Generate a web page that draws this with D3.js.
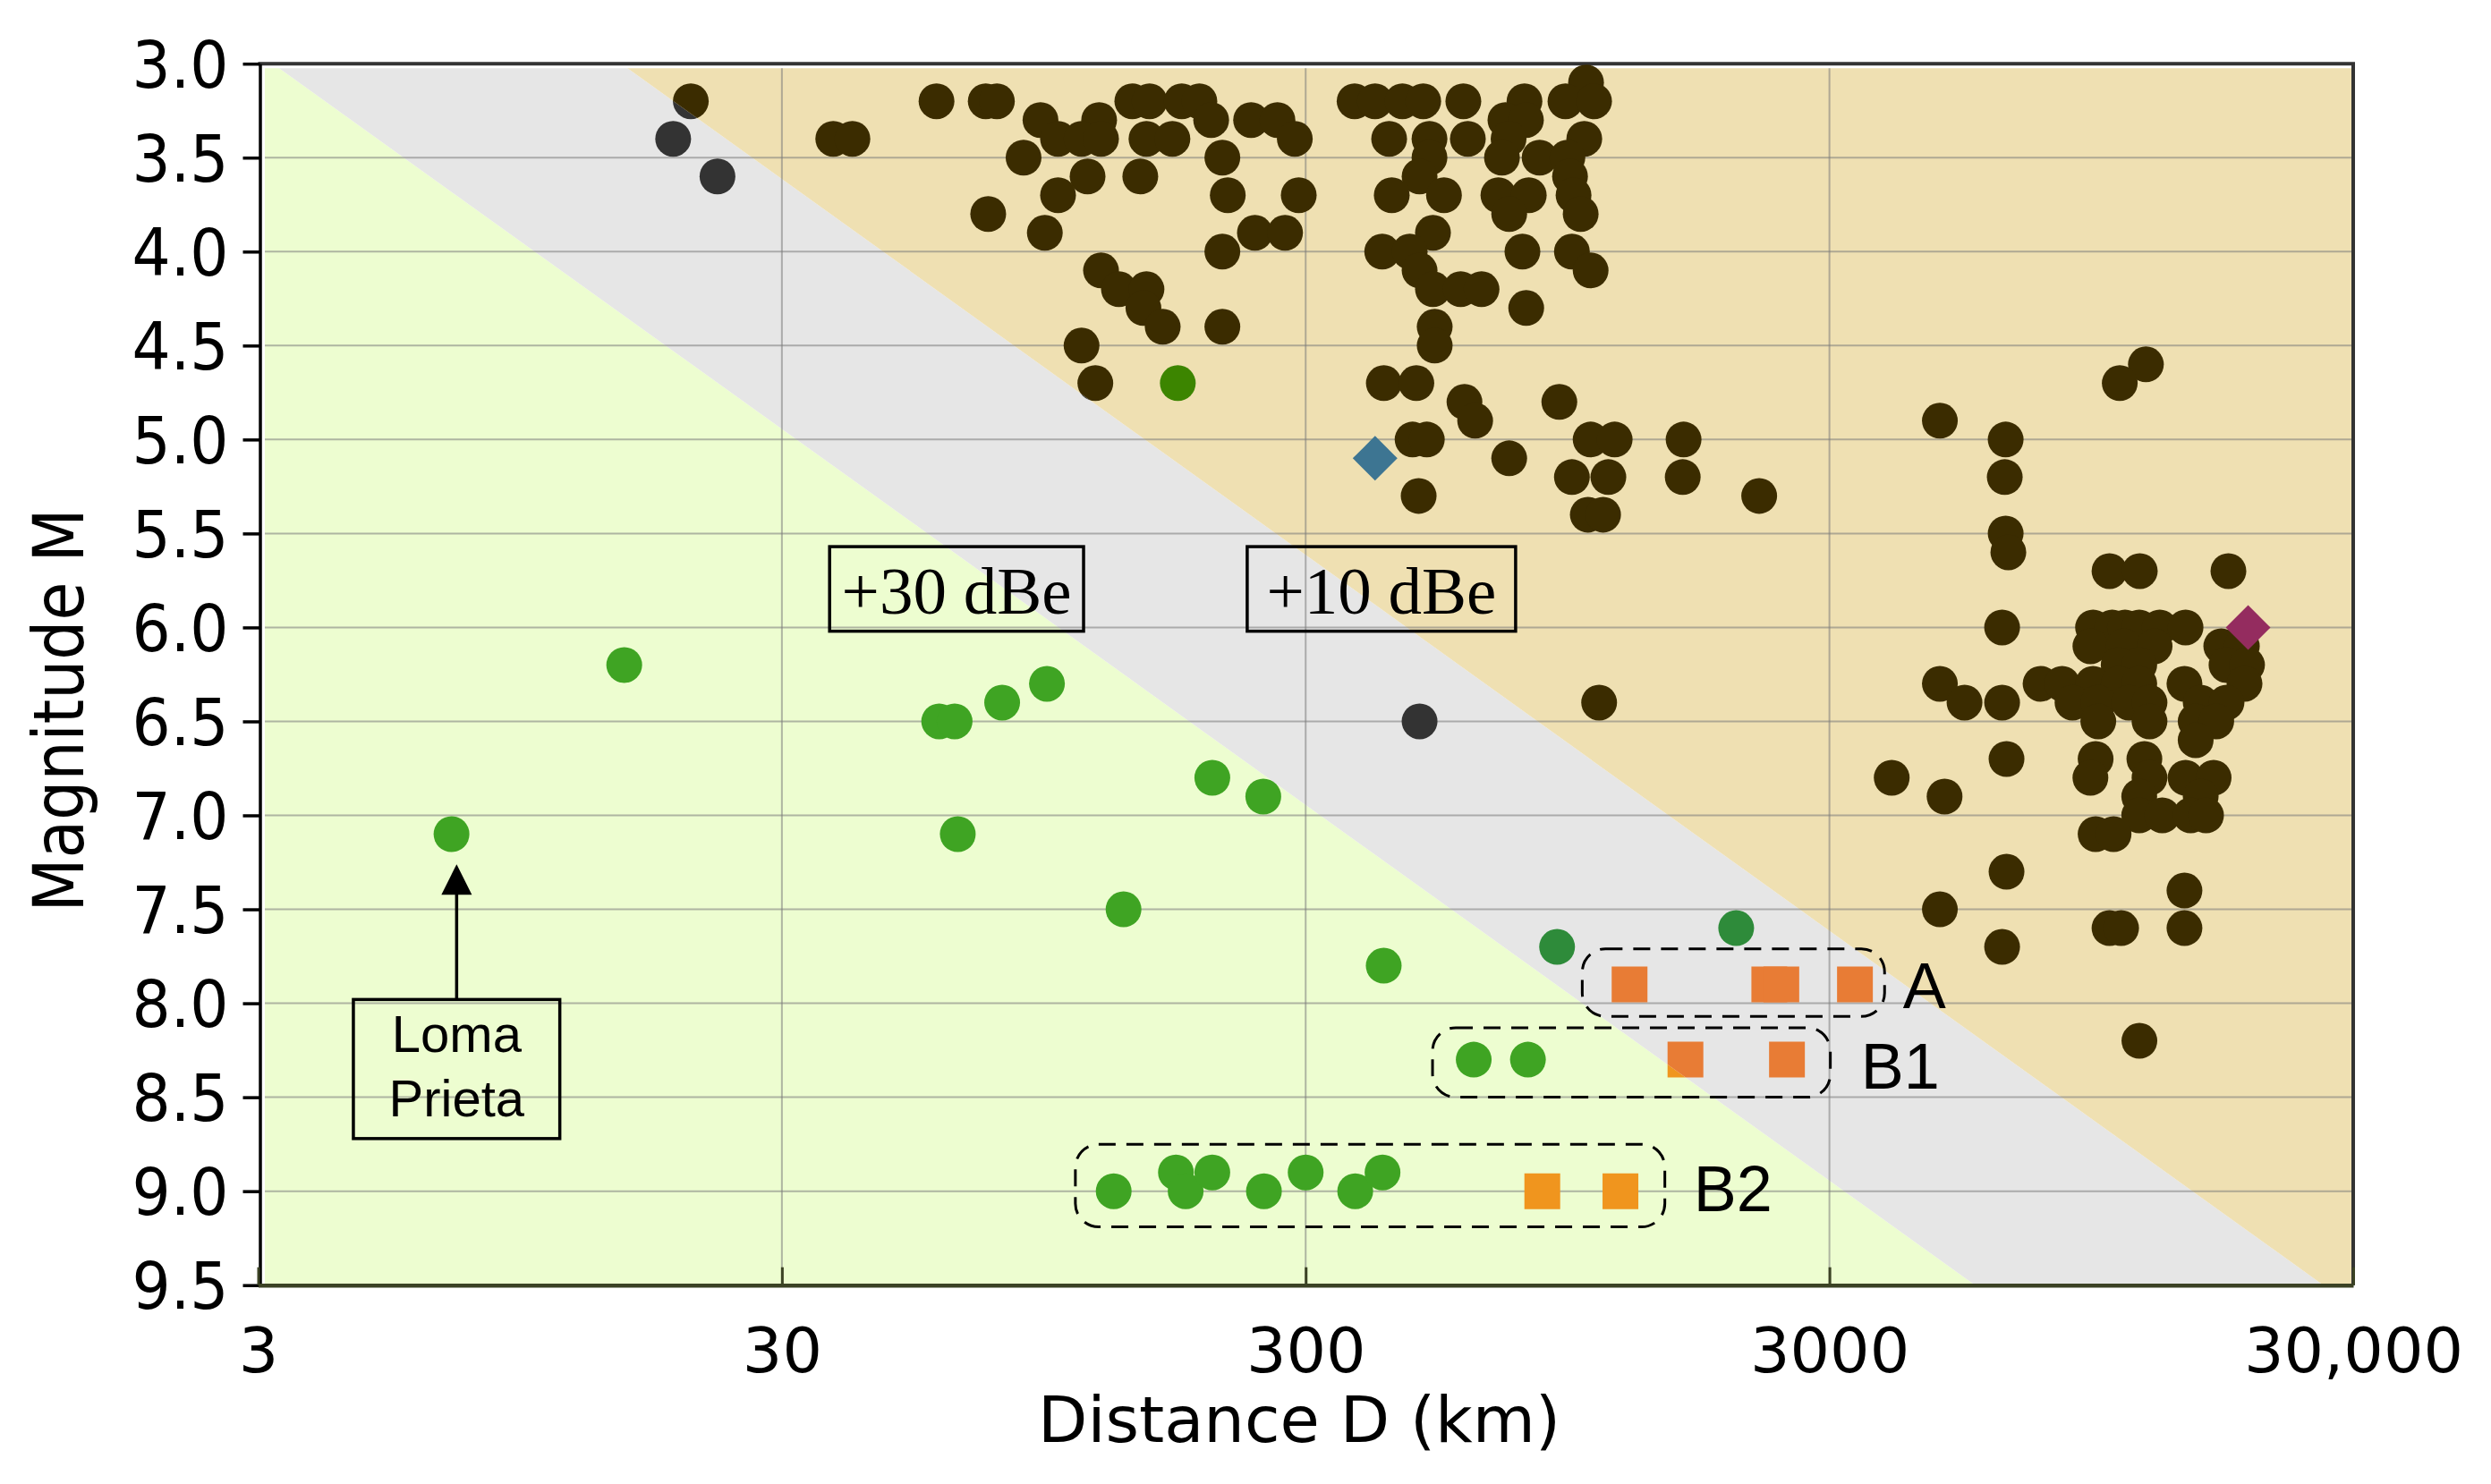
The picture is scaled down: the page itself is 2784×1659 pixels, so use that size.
<!DOCTYPE html>
<html>
<head>
<meta charset="utf-8">
<script src="https://cdn.jsdelivr.net/npm/d3@7"></script>
<style>
  body { margin: 0; background: #fff; }
  svg { display: block; }
</style>
</head>
<body>
<div id="chart"></div>
<script>
'use strict';

// axis ticks
var yTicks = [3.0, 3.5, 4.0, 4.5, 5.0, 5.5, 6.0, 6.5, 7.0, 7.5, 8.0, 8.5, 9.0, 9.5];
var xTicks = [3, 30, 300, 3000, 30000];
var xTickLabels = ['3', '30', '300', '3000', '30,000'];
var xGrid = [30, 300, 3000];

// band edges [distance km, magnitude]
var greenEdge = [[3.2, 3.0], [5690, 9.5]];
var tanEdge = [[14.8, 3.0], [26300, 9.5]];

// [distance km, magnitude]
var darkQuakes = [
  [1029, 3.1],
  [20.1, 3.2], [59.2, 3.2], [73.5, 3.2], [77.2, 3.2], [140, 3.2], [151, 3.2], [174, 3.2], [188, 3.2],
  [372, 3.2], [407, 3.2], [459, 3.2], [503, 3.2], [600, 3.2], [785, 3.2], [940, 3.2], [1066, 3.2],
  [93.5, 3.3], [121, 3.3], [198, 3.3], [236, 3.3], [265, 3.3], [722, 3.3], [790, 3.3],
  [18.6, 3.4], [37.6, 3.4], [40.9, 3.4], [101, 3.4], [112, 3.4], [122, 3.4], [149, 3.4], [167, 3.4],
  [286, 3.4], [433, 3.4], [517, 3.4], [612, 3.4], [732, 3.4], [1021, 3.4],
  [86.8, 3.5], [208, 3.5], [517, 3.5], [711, 3.5], [839, 3.5], [948, 3.5],
  [22.6, 3.6], [115, 3.6], [145, 3.6], [495, 3.6], [959, 3.6],
  [101, 3.7], [213, 3.7], [291, 3.7], [438, 3.7], [551, 3.7], [700, 3.7], [800, 3.7], [974, 3.7],
  [74.3, 3.8], [734, 3.8], [1005, 3.8],
  [95.3, 3.9], [240, 3.9], [274, 3.9], [525, 3.9],
  [208, 4.0], [420, 4.0], [474, 4.0], [778, 4.0], [967, 4.0],
  [122, 4.1], [495, 4.1], [1050, 4.1],
  [132, 4.2], [149, 4.2], [525, 4.2], [593, 4.2], [650, 4.2],
  [147, 4.3], [791, 4.3],
  [160, 4.4], [208, 4.4], [529, 4.4],
  [112, 4.5], [529, 4.5],
  [12060, 4.6],
  [119, 4.7], [423, 4.7], [488, 4.7], [10750, 4.7],
  [603, 4.8], [915, 4.8],
  [632, 4.9], [4875, 4.9],
  [480, 5.0], [511, 5.0], [1050, 5.0], [1167, 5.0], [1580, 5.0], [6510, 5.0],
  [734, 5.1],
  [967, 5.2], [1135, 5.2], [1574, 5.2], [6484, 5.2],
  [493, 5.3], [2203, 5.3],
  [1037, 5.4], [1109, 5.4],
  [6510, 5.5], [6587, 5.6],
  [10276, 5.7], [11740, 5.7], [17332, 5.7],
  [6409, 6.0], [9559, 6.0], [10400, 6.0], [11000, 6.0], [11711, 6.0], [12815, 6.0], [14355, 6.0],
  [9449, 6.1], [10942, 6.1], [12529, 6.1], [16797, 6.1], [18387, 6.1],
  [10699, 6.2], [11711, 6.2], [17189, 6.2], [18810, 6.2],
  [4875, 6.3], [7590, 6.3], [8344, 6.3], [9559, 6.3], [10699, 6.3], [11711, 6.3], [14287, 6.3], [18604, 6.3],
  [1090, 6.4], [5433, 6.4], [6409, 6.4], [8733, 6.4], [9781, 6.4], [11193, 6.4], [12252, 6.4], [15344, 6.4], [17189, 6.4],
  [495, 6.5], [9781, 6.5], [12252, 6.5], [15009, 6.5], [16428, 6.5],
  [15009, 6.6],
  [6535, 6.7], [9668, 6.7], [11979, 6.7],
  [3945, 6.8], [9449, 6.8], [12252, 6.8], [14355, 6.8], [16241, 6.8],
  [4977, 6.9], [11711, 6.9], [15344, 6.9],
  [11711, 7.0], [12958, 7.0], [14679, 7.0], [15708, 7.0],
  [9668, 7.1], [10461, 7.1],
  [6535, 7.3], [14287, 7.4], [4875, 7.5],
  [10276, 7.6], [10814, 7.6], [14287, 7.6],
  [6409, 7.7], [11720, 8.2]
];

var greenQuakes = [
  [7.02, 7.1], [15.0, 6.2], [59.9, 6.5], [64.1, 6.5], [79.0, 6.4], [96.2, 6.3], [65.0, 7.1],
  [171, 4.7], [134.7, 7.5], [199, 6.8], [249, 6.9], [422.8, 7.8], [906, 7.7], [1991, 7.6],
  [628, 8.3], [797, 8.3],
  [129, 9.0], [169.6, 8.9], [177, 9.0], [199, 8.9], [249.7, 9.0], [300, 8.9], [373, 9.0], [420.6, 8.9]
];

var squareQuakes = [
  [1246, 7.9], [2303, 7.9], [2428, 7.9], [3356, 7.9],
  [1593, 8.3], [2489, 8.3],
  [849, 9.0], [1197, 9.0]
];

var blueDiamond = [[407, 5.1]];
var purpleDiamond = [[18900, 6.0]];

// annotations
var bandNotes = [
  {text: '+30 dBe', d0: 37, d1: 113, m0: 5.57, m1: 6.02},
  {text: '+10 dBe', d0: 232, d1: 755, m0: 5.57, m1: 6.02}
];
var lomaNote = {lines: ['Loma', 'Prieta'], d0: 4.56, d1: 11.3, m0: 7.98, m1: 8.72, arrowD: 7.18, tipM: 7.26};
var groupBoxes = [
  {label: 'A', d0: 1012, d1: 3823, m0: 7.71, m1: 8.07, labelD: 4143},
  {label: 'B1', d0: 524, d1: 3012, m0: 8.13, m1: 8.50, labelD: 3443},
  {label: 'B2', d0: 109, d1: 1455, m0: 8.75, m1: 9.19, labelD: 1650}
];

var darkFill = {green: '#333333', gray: '#333333', tan: '#3b2c00'};
var greenFill = {green: '#3fa423', gray: '#2e8b3a', tan: '#3c8500'};
var squareFill = {green: '#f0951e', gray: '#e87c35', tan: '#e87c35'};

(function() {
  var W = 2784, H = 1659;
  var pLeft = 288.5, pRight = 2630, pTop = 71.2, pBottom = 1436.7;

  var x = d3.scaleLog().domain([3, 30000]).range([pLeft, pRight]);
  var y = d3.scaleLinear().domain([3, 9.5]).range([pTop, pBottom]);

  var svg = d3.select('#chart').append('svg')
    .attr('width', W)
    .attr('height', H)
    .style('background', '#ffffff');
  var defs = svg.append('defs');

  defs.append('clipPath').attr('id', 'inner')
    .append('rect')
    .attr('x', pLeft + 7.5)
    .attr('y', pTop + 5)
    .attr('width', pRight - pLeft - 9)
    .attr('height', pBottom - pTop - 6);

  // band edge in pixels, pushed well past the frame
  function stretch(edge) {
    var x0 = x(edge[0][0]), y0 = y(edge[0][1]);
    var x1 = x(edge[1][0]), y1 = y(edge[1][1]);
    var k = (x1 - x0) / (y1 - y0);
    return [[x0 + k * (-600 - y0), -600], [x0 + k * (2600 - y0), 2600]];
  }
  var ge = stretch(greenEdge), te = stretch(tanEdge);
  var regions = [
    {name: 'green', fill: '#edfdd0', pts: [[-4000, -600], ge[0], ge[1], [-4000, 2600]]},
    {name: 'gray', fill: '#e6e6e6', pts: [ge[0], te[0], te[1], ge[1]]},
    {name: 'tan', fill: '#efe0b2', pts: [te[0], [8000, -600], [8000, 2600], te[1]]}
  ];

  regions.forEach(function(r) {
    defs.append('clipPath').attr('id', 'clip-' + r.name)
      .append('polygon')
      .attr('points', r.pts.join(' '));
  });

  svg.append('g')
    .attr('clip-path', 'url(#inner)')
    .selectAll('polygon').data(regions)
    .enter().append('polygon')
      .attr('points', function(d) { return d.pts.join(' '); })
      .style('fill', function(d) { return d.fill; });

  // grid
  var grid = svg.append('g').attr('clip-path', 'url(#inner)')
    .style('stroke', '#7a7a7a')
    .style('stroke-opacity', 0.55)
    .style('stroke-width', 2);
  grid.selectAll('line.h').data(yTicks.slice(1, -1))
    .enter().append('line')
      .attr('class', 'h')
      .attr('x1', pLeft).attr('x2', pRight)
      .attr('y1', function(d) { return y(d); })
      .attr('y2', function(d) { return y(d); });
  grid.selectAll('line.v').data(xGrid)
    .enter().append('line')
      .attr('class', 'v')
      .attr('y1', pTop).attr('y2', pBottom)
      .attr('x1', function(d) { return x(d); })
      .attr('x2', function(d) { return x(d); });

  // frame top/right
  svg.append('path')
    .attr('d', 'M' + pLeft + ',' + pTop + 'H' + pRight + 'V' + pBottom)
    .style('fill', 'none')
    .style('stroke', '#333')
    .style('stroke-width', 4);

  // markers, coloured by the band they sit in
  var square = d3.symbol().type(d3.symbolSquare).size(1600);
  regions.forEach(function(r) {
    var layer = svg.append('g').attr('clip-path', 'url(#clip-' + r.name + ')');
    layer.selectAll('circle.dark').data(darkQuakes)
      .enter().append('circle')
        .attr('class', 'dark')
        .attr('cx', function(d) { return x(d[0]); })
        .attr('cy', function(d) { return y(d[1]); })
        .attr('r', 20)
        .style('fill', darkFill[r.name]);
    layer.selectAll('circle.green').data(greenQuakes)
      .enter().append('circle')
        .attr('class', 'green')
        .attr('cx', function(d) { return x(d[0]); })
        .attr('cy', function(d) { return y(d[1]); })
        .attr('r', 20)
        .style('fill', greenFill[r.name]);
    layer.selectAll('path.sq').data(squareQuakes)
      .enter().append('path')
        .attr('class', 'sq')
        .attr('d', square)
        .attr('transform', function(d) { return 'translate(' + x(d[0]) + ',' + y(d[1]) + ')'; })
        .style('fill', squareFill[r.name]);
  });

  var diamond = d3.symbol().type(d3.symbolSquare).size(1250);
  [[blueDiamond, '#3d7592'], [purpleDiamond, '#942c5f']].forEach(function(s) {
    svg.append('g').selectAll('path').data(s[0])
      .enter().append('path')
        .attr('d', diamond)
        .attr('transform', function(d) { return 'translate(' + x(d[0]) + ',' + y(d[1]) + ') rotate(45)'; })
        .style('fill', s[1]);
  });

  // axes
  var yAxis = svg.append('g')
    .attr('transform', 'translate(' + (pLeft + 2) + ',0)')
    .call(d3.axisLeft(y).tickValues(yTicks).tickFormat(d3.format('.1f'))
      .tickSizeInner(19).tickSizeOuter(0).tickPadding(16));
  yAxis.select('.domain').style('stroke', '#000').style('stroke-width', 3.5);
  yAxis.selectAll('.tick line').style('stroke', '#000').style('stroke-width', 3.5);
  yAxis.selectAll('.tick text')
    .attr('dy', '0.36em')
    .attr('textLength', 108)
    .attr('lengthAdjust', 'spacingAndGlyphs')
    .style('font-family', 'DejaVu Sans')
    .style('font-size', '73px')
    .style('fill', '#000');

  var xAxis = svg.append('g')
    .attr('transform', 'translate(0,' + pBottom + ')')
    .call(d3.axisBottom(x).tickValues(xTicks)
      .tickFormat(function(d, i) { return xTickLabels[i]; })
      .tickSizeInner(-20).tickSizeOuter(0));
  xAxis.select('.domain').style('stroke', '#3b4224').style('stroke-width', 4.5);
  xAxis.selectAll('.tick line').style('stroke', '#3b4224').style('stroke-width', 3);
  xAxis.selectAll('.tick text')
    .attr('y', 97)
    .attr('dy', 0)
    .style('font-family', 'DejaVu Sans')
    .style('font-size', '70px')
    .style('fill', '#000');

  svg.append('text')
    .attr('transform', 'translate(93,794) rotate(-90)')
    .attr('text-anchor', 'middle')
    .attr('textLength', 451)
    .attr('lengthAdjust', 'spacingAndGlyphs')
    .style('font-family', 'DejaVu Sans')
    .style('font-size', '78px')
    .text('Magnitude M');

  svg.append('text')
    .attr('x', 1452)
    .attr('y', 1612)
    .attr('text-anchor', 'middle')
    .style('font-family', 'DejaVu Sans')
    .style('font-size', '72px')
    .text('Distance D (km)');

  // band labels
  var notes = svg.selectAll('g.note').data(bandNotes)
    .enter().append('g').attr('class', 'note');
  notes.append('rect')
    .attr('x', function(d) { return x(d.d0); })
    .attr('y', function(d) { return y(d.m0); })
    .attr('width', function(d) { return x(d.d1) - x(d.d0); })
    .attr('height', function(d) { return y(d.m1) - y(d.m0); })
    .style('fill', 'none')
    .style('stroke', '#000')
    .style('stroke-width', 3.5);
  notes.append('text')
    .attr('x', function(d) { return (x(d.d0) + x(d.d1)) / 2; })
    .attr('y', function(d) { return (y(d.m0) + y(d.m1)) / 2 + 28; })
    .attr('text-anchor', 'middle')
    .attr('textLength', 257)
    .attr('lengthAdjust', 'spacingAndGlyphs')
    .style('font-family', 'Liberation Serif')
    .style('font-size', '74px')
    .text(function(d) { return d.text; });

  // Loma Prieta callout
  var lx = x(lomaNote.arrowD);
  svg.append('rect')
    .attr('x', x(lomaNote.d0))
    .attr('y', y(lomaNote.m0))
    .attr('width', x(lomaNote.d1) - x(lomaNote.d0))
    .attr('height', y(lomaNote.m1) - y(lomaNote.m0))
    .style('fill', 'none')
    .style('stroke', '#000')
    .style('stroke-width', 3.5);
  svg.append('line')
    .attr('x1', lx).attr('x2', lx)
    .attr('y1', y(lomaNote.m0))
    .attr('y2', y(lomaNote.tipM) + 30)
    .style('stroke', '#000')
    .style('stroke-width', 3.5);
  svg.append('path')
    .attr('d', 'M' + lx + ',' + y(lomaNote.tipM) + 'l17,34h-34z')
    .style('fill', '#000');
  svg.selectAll('text.loma').data(lomaNote.lines)
    .enter().append('text')
      .attr('class', 'loma')
      .attr('x', lx)
      .attr('y', function(d, i) { return y(lomaNote.m0) + 59 + i * 72; })
      .attr('text-anchor', 'middle')
      .style('font-family', 'Liberation Sans')
      .style('font-size', '58px')
      .text(function(d) { return d; });

  // dashed groups
  var groups = svg.selectAll('g.grp').data(groupBoxes)
    .enter().append('g').attr('class', 'grp');
  groups.append('rect')
    .attr('x', function(d) { return x(d.d0); })
    .attr('y', function(d) { return y(d.m0); })
    .attr('width', function(d) { return x(d.d1) - x(d.d0); })
    .attr('height', function(d) { return y(d.m1) - y(d.m0); })
    .attr('rx', 26)
    .style('fill', 'none')
    .style('stroke', '#000')
    .style('stroke-width', 3)
    .style('stroke-dasharray', '19,12');
  groups.append('text')
    .attr('x', function(d) { return x(d.labelD); })
    .attr('y', function(d) { return (y(d.m0) + y(d.m1)) / 2 + 29; })
    .style('font-family', 'Liberation Sans')
    .style('font-size', '72px')
    .text(function(d) { return d.label; });
})();
</script>
</body>
</html>
